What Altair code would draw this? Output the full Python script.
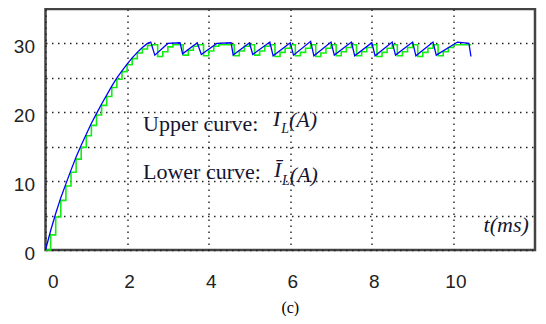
import altair as alt
import pandas as pd

# ---- data ----
blue_t = [0, 0.125, 0.25, 0.375, 0.5, 0.625, 0.75, 0.875, 1.0, 1.125, 1.25, 1.375, 1.5,
          1.625, 1.75, 1.875, 2.0, 2.125, 2.25, 2.375, 2.5, 2.58, 2.68, 3.0, 3.3, 3.36,
          3.72, 3.82, 4.2, 4.55, 4.6, 5.0, 5.08, 5.5, 5.58, 6.0, 6.08, 6.5, 6.58, 7.0, 7.08,
          7.5, 7.58, 8.0, 8.08, 8.5, 8.58, 9.0, 9.08, 9.5, 9.58, 10.1, 10.38, 10.43]
blue_i = [0, 2.8, 5.3, 7.6, 9.6, 11.6, 13.5, 15.2, 16.8, 18.4, 19.8, 21.2, 22.5,
          23.8, 25.0, 26.0, 27.0, 27.9, 28.7, 29.4, 30.0, 30.2, 28.3, 30.0, 30.1, 28.5,
          30.1, 28.4, 30.0, 30.1, 28.3, 30.1, 28.4, 30.2, 28.2, 30.1, 28.3, 30.3, 28.2, 30.2, 28.3,
          30.2, 28.2, 30.1, 28.2, 30.2, 28.3, 30.2, 28.2, 30.2, 28.3, 30.2, 30.0, 28.1]

green_t = [0, 0.125, 0.25, 0.375, 0.5, 0.625, 0.75, 0.875, 1.0, 1.125, 1.25, 1.375, 1.5,
           1.625, 1.75, 1.875, 2.0, 2.125, 2.25, 2.375, 2.5, 2.625, 2.75, 2.875, 3.0, 3.125,
           3.25, 3.375, 3.5, 3.625, 3.75, 3.875, 4.0, 4.125, 4.25, 4.375, 4.5, 4.625, 4.75,
           4.875, 5.0, 5.125, 5.25, 5.375, 5.5, 5.625, 5.75, 5.875, 6.0, 6.125, 6.25, 6.375,
           6.5, 6.625, 6.75, 6.875, 7.0, 7.125, 7.25, 7.375, 7.5, 7.625, 7.75, 7.875, 8.0,
           8.125, 8.25, 8.375, 8.5, 8.625, 8.75, 8.875, 9.0, 9.125, 9.25, 9.375, 9.5, 9.625,
           9.75, 9.875, 10.0, 10.125, 10.25, 10.375, 10.43]
green_i = [0, 2.2, 4.8, 7.2, 9.3, 11.3, 13.2, 14.9, 16.6, 18.1, 19.6, 21.0, 22.3,
           23.6, 24.8, 25.9, 26.9, 27.8, 28.6, 29.2, 29.7, 29.8, 28.1, 28.8, 29.5, 29.8,
           29.8, 28.3, 29.0, 29.6, 29.8, 28.2, 28.9, 29.6, 29.8, 29.8, 29.8, 28.2, 28.9,
           29.6, 29.8, 28.3, 28.9, 29.6, 29.8, 28.1, 28.7, 29.3, 29.8, 28.2, 28.7, 29.3,
           29.8, 28.1, 28.6, 29.3, 29.8, 28.2, 28.8, 29.4, 29.8, 28.2, 28.8, 29.4, 29.8,
           28.1, 28.7, 29.3, 29.8, 28.2, 28.8, 29.4, 29.8, 28.1, 28.7, 29.3, 29.8, 28.2,
           28.8, 29.4, 29.8, 29.8, 29.8, 29.8, 29.8]

x_ticks = [0, 2, 4, 6, 8, 10]
y_ticks = [0, 5, 10, 15, 20, 25, 30]

# annotations: text, t, I, size, style
ann_text = ["Upper curve:", "I", "L", "(A)", "Lower curve:", "Ī", "L", "(A)", "t(ms)"]
ann_t = [2.39, 5.58, 5.78, 5.97, 2.39, 5.60, 5.80, 5.99, 10.74]
ann_i = [17.28, 18.04, 16.95, 17.9, 10.37, 10.56, 9.4, 9.87, 2.61]
ann_size = [22, 22, 14, 22, 22, 22, 14, 22, 22]
ann_style = ["normal", "italic", "italic", "italic", "normal", "italic", "italic", "italic", "italic"]

blue_df = pd.DataFrame({"t": blue_t, "i": blue_i})
green_df = pd.DataFrame({"t": green_t, "i": green_i})

xs = alt.Scale(domain=[0, 12], nice=False, zero=False)
ys = alt.Scale(domain=[0, 35], nice=False, zero=False)

x_enc = alt.X("t:Q", scale=xs, title=None,
              axis=alt.Axis(values=x_ticks, labelOffset=2, labelPadding=22))
y_enc = alt.Y("i:Q", scale=ys, title=None,
              axis=alt.Axis(values=y_ticks, labelExpr="datum.value % 10 == 0 ? datum.label : ''",
                            labelPadding=11, labelOffset=3))

green = alt.Chart(green_df).mark_line(color="#11ee11", strokeWidth=1.6,
                                      interpolate="step-after").encode(x=x_enc, y=y_enc)
blue = alt.Chart(blue_df).mark_line(color="#0000ff", strokeWidth=1.3).encode(
    x=alt.X("t:Q", scale=xs), y=alt.Y("i:Q", scale=ys))

layers = [green, blue]
for k in range(len(ann_text)):
    d = pd.DataFrame({"t": [ann_t[k]], "i": [ann_i[k]], "s": [ann_text[k]]})
    layers.append(
        alt.Chart(d).mark_text(align="left", baseline="alphabetic", font="Liberation Serif",
                               fontSize=ann_size[k], fontStyle=ann_style[k], color="#151530")
        .encode(x=alt.X("t:Q", scale=xs), y=alt.Y("i:Q", scale=ys), text="s:N"))

chart = alt.layer(*layers).properties(
    width=489.5, height=241,
    autosize=alt.AutoSizeParams(type="none"),
    padding={"left": 37.5, "top": 1, "right": 3, "bottom": 66},
    title=alt.TitleParams("(c)", orient="bottom", anchor="middle", font="Liberation Serif",
                          fontSize=16, fontWeight="normal", color="#000", offset=9),
).configure_view(stroke="#444", strokeWidth=2.5).configure_axis(
    domain=False, ticks=False, grid=True, gridColor="#222", gridDash=[1.5, 4.5],
    gridWidth=1.4, labelFont="Liberation Sans", labelFontSize=19, labelColor="#222",
    gridOpacity=1,
)

chart.save("out.html", embed_options={"renderer": "svg", "actions": False})
